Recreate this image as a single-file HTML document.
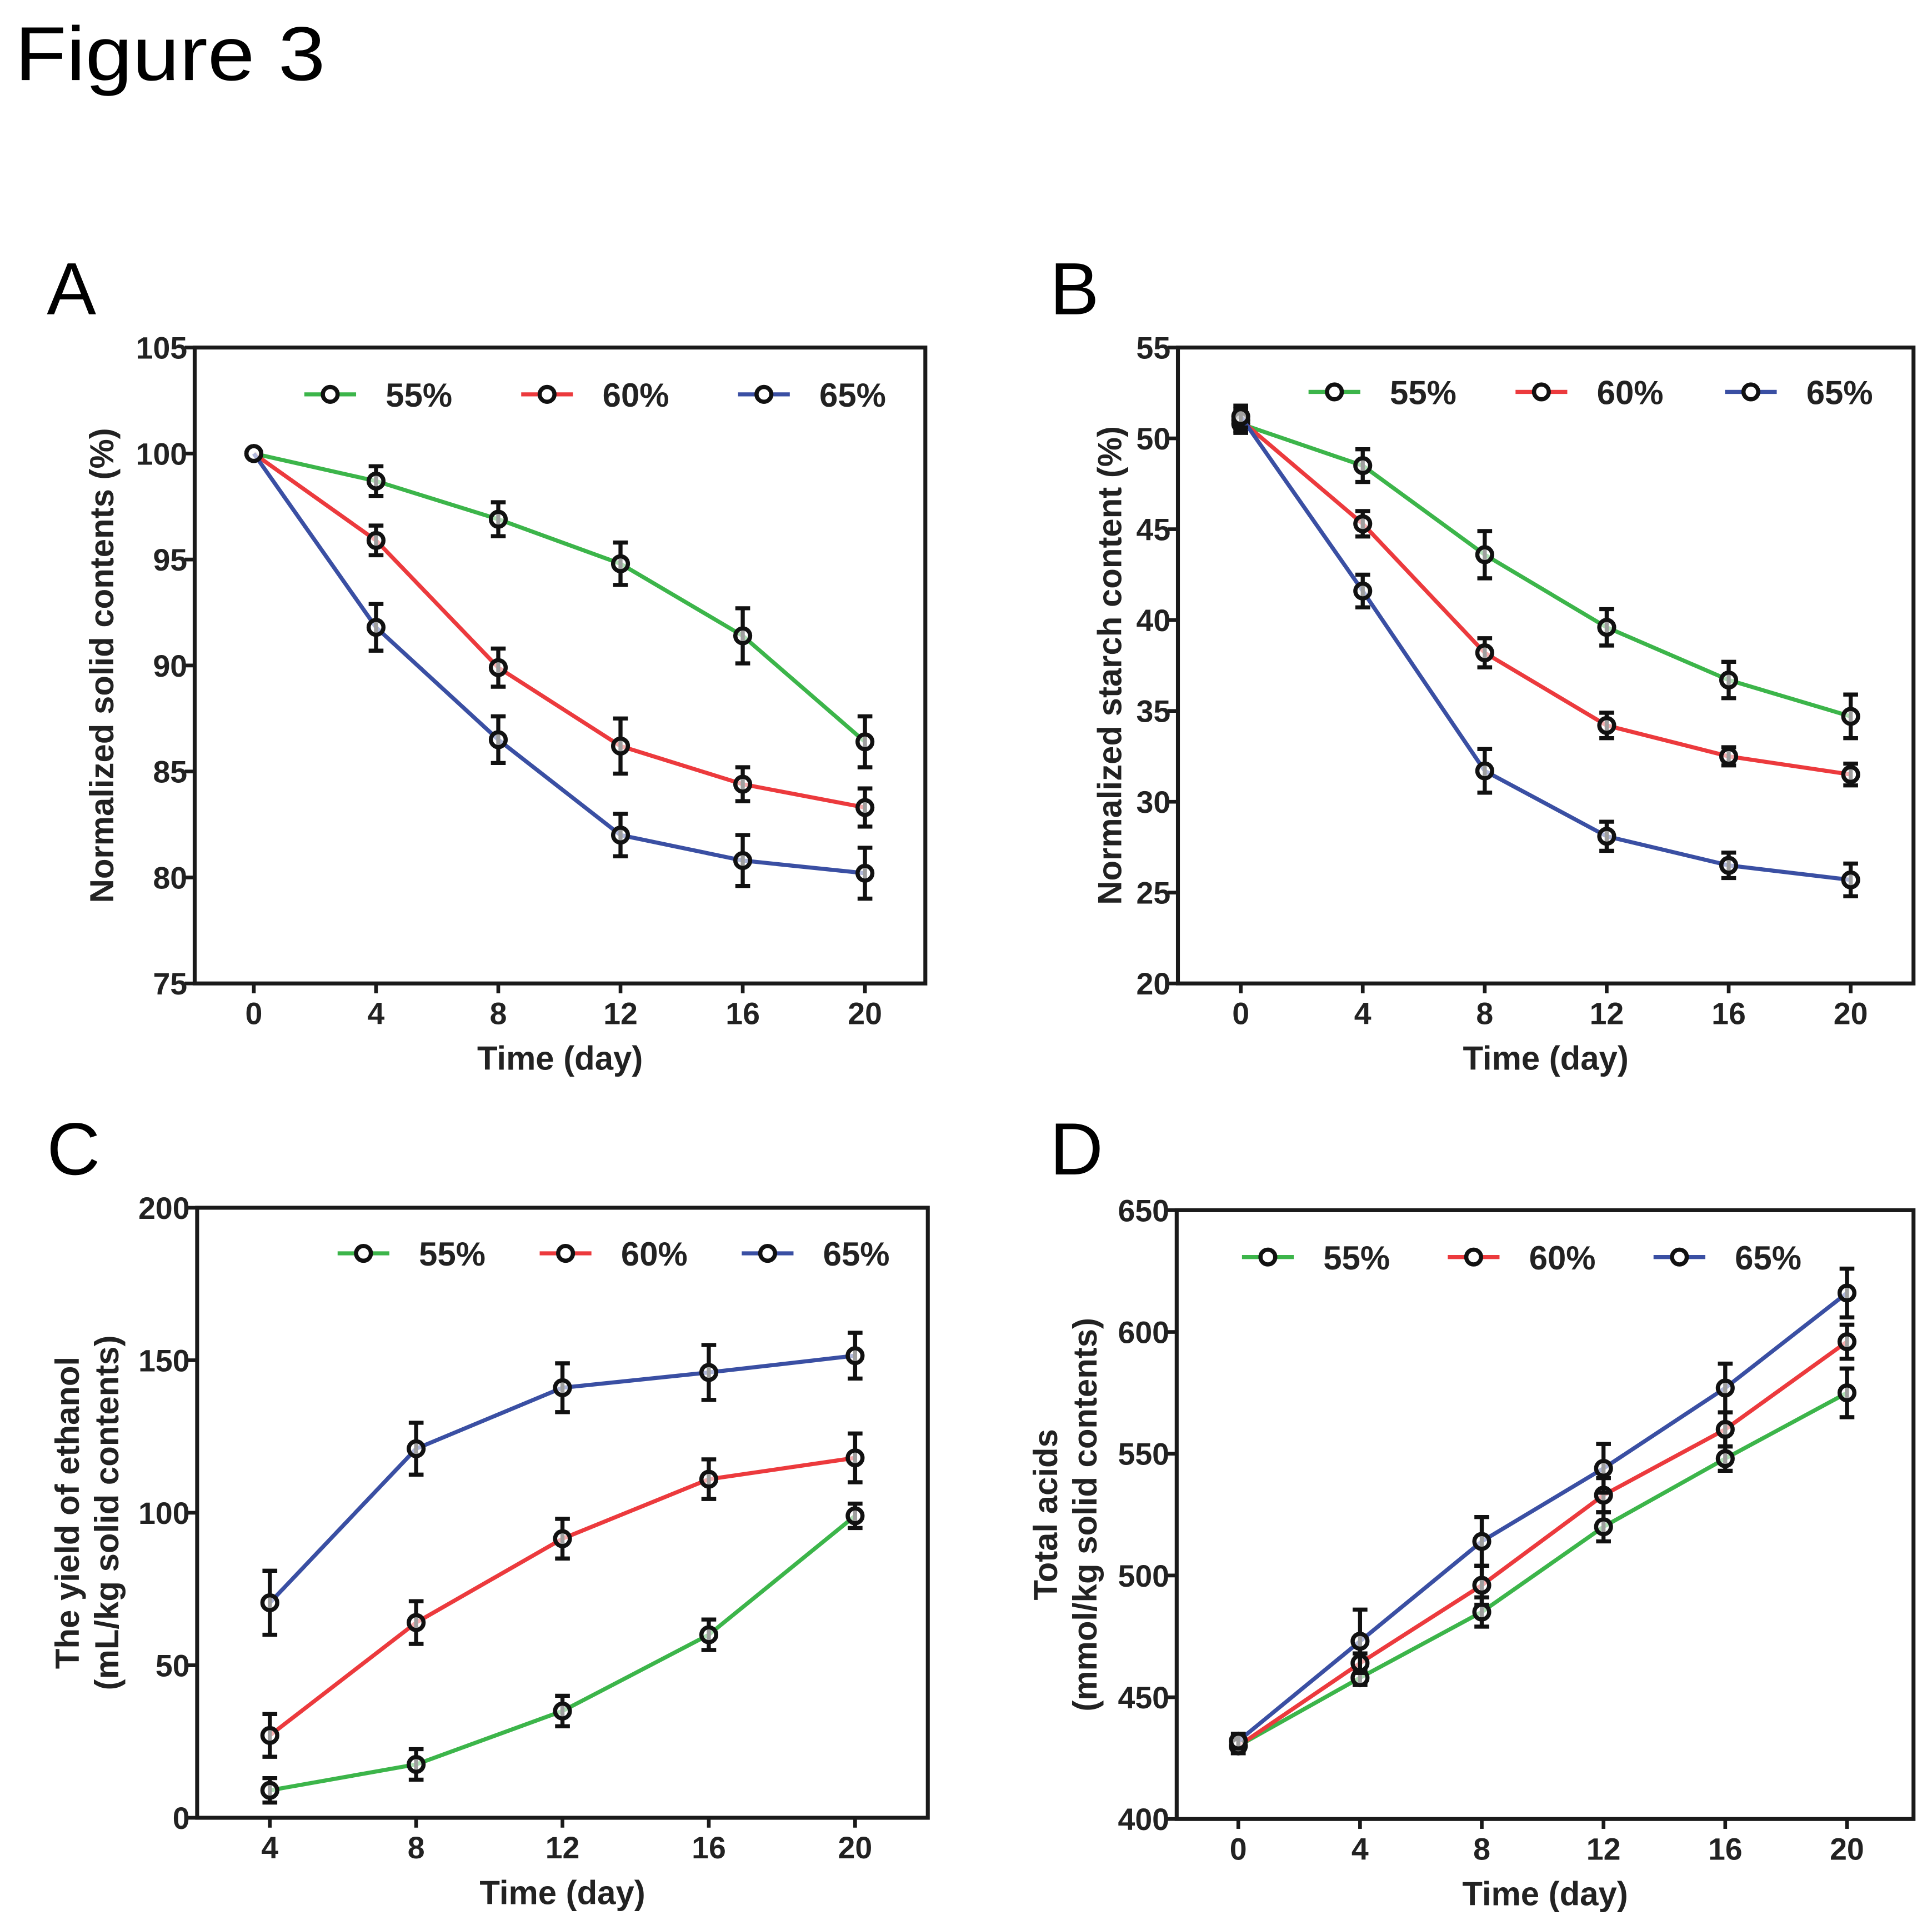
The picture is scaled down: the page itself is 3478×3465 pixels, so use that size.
<!DOCTYPE html>
<html><head><meta charset="utf-8"><style>
html,body{margin:0;padding:0;background:#fff;}
svg{display:block;font-family:"Liberation Sans",Arial,sans-serif;}
</style></head><body>
<svg id="fig" width="3478" height="3465" viewBox="0 0 1568 1562" preserveAspectRatio="none" xmlns="http://www.w3.org/2000/svg">
<text x="12" y="65" font-size="62" textLength="252" lengthAdjust="spacingAndGlyphs">Figure 3</text>
</svg>
<script>
// ---- Data ----
const daysA = [0,4,8,12,16,20];
const daysC = [4,8,12,16,20];
const seriesNames = ['55%','60%','65%'];
const A55 = [100,98.7,96.9,94.8,91.4,86.4], A55e = [0,0.7,0.8,1.0,1.3,1.2];
const A60 = [100,95.9,89.9,86.2,84.4,83.3], A60e = [0,0.7,0.9,1.3,0.8,0.9];
const A65 = [100,91.8,86.5,82.0,80.8,80.2], A65e = [0,1.1,1.1,1.0,1.2,1.2];
const B55 = [50.8,48.5,43.6,39.6,36.7,34.7], B55e = [0.5,0.9,1.3,1.0,1.0,1.2];
const B60 = [51.0,45.3,38.2,34.2,32.5,31.5], B60e = [0.6,0.7,0.8,0.7,0.5,0.6];
const B65 = [51.2,41.6,31.7,28.1,26.5,25.7], B65e = [0.6,0.9,1.2,0.8,0.7,0.9];
const C55 = [9,17.5,35,60,99], C55e = [4,5,5,5,4];
const C60 = [27,64,91.5,111,118], C60e = [7,7,6.5,6.5,8];
const C65 = [70.5,121,141,146,151.5], C65e = [10.5,8.5,8,9,7.5];
const D55 = [430,458,485,520,548,575], D55e = [3,3,6,6,5,10];
const D60 = [430,464,496,533,560,596], D60e = [3,4,8,7,7,7];
const D65 = [432,473,514,544,577,616], D65e = [3,13,10,10,10,10];
const ticksA = [75,80,85,90,95,100,105];
const ticksB = [20,25,30,35,40,45,50,55];
const ticksC = [0,50,100,150,200];
const ticksD = [400,450,500,550,600,650];

const colors = ['#3cb54a','#ec3a3d','#3a4fa3'];
const NS = 'http://www.w3.org/2000/svg';
const svg = document.getElementById('fig');
function el(tag, attrs, parent){
  const e = document.createElementNS(NS, tag);
  for (const k in attrs) e.setAttribute(k, attrs[k]);
  (parent||svg).appendChild(e); return e;
}
function panel(cfg){
  const g = el('g', {});
  
  
  const {x0,x1,y0,y1,xd,yd,xpx,xticks,yticks} = cfg;
  const sx = v => xpx[0] + (v - xd[0]) / (xd[1] - xd[0]) * (xpx[1] - xpx[0]);
  const sy = v => y1 - (v - yd[0]) / (yd[1] - yd[0]) * (y1 - y0);
  const lt = el('text', {x:cfg.lx, y:cfg.ly, 'font-size':60}, g);
  lt.textContent = cfg.id;
  
  
  const box = el('rect', {x:x0, y:y0, width:x1-x0, height:y1-y0, fill:'none', stroke:'#1a1a1a', 'stroke-width':3.2}, g);
  
  
  yticks.forEach(t => {
    const y = sy(t);
    el('line', {x1:x0-8, x2:x0, y1:y, y2:y, stroke:'#1a1a1a', 'stroke-width':3}, g);
    const tx = el('text', {x:x0-6, y:y+9, 'font-size':25, 'font-weight':'bold', 'text-anchor':'end', fill:'#222'}, g);
    tx.textContent = t;
    
    
  });
  xticks.forEach(t => {
    const x = sx(t);
    el('line', {x1:x, x2:x, y1:y1, y2:y1+8, stroke:'#1a1a1a', 'stroke-width':3}, g);
    const tx = el('text', {x:x, y:y1+33, 'font-size':25, 'font-weight':'bold', 'text-anchor':'middle', fill:'#222'}, g);
    tx.textContent = t;
    
    
  });
  const xt = el('text', {x:(x0+x1)/2, y:y1+70, 'font-size':27, 'font-weight':'bold', 'text-anchor':'middle', fill:'#222'}, g);
  xt.textContent = 'Time (day)';
  
  
  cfg.ylab.forEach((s, i) => {
    const lx = cfg.ylx[i], ly = (y0+y1)/2;
    const yt = el('text', {x:lx, y:ly, 'font-size':27, 'font-weight':'bold', 'text-anchor':'middle', fill:'#222', transform:`rotate(-90 ${lx} ${ly})`}, g);
    yt.textContent = s;
    
    
  });
  cfg.series.forEach((s, si) => {
    const sg = el('g', {}, g);
    
    
    const pts = s.v.map((v, i) => sx(cfg.xs[i]) + ',' + sy(v)).join(' ');
    const pl = el('polyline', {points:pts, fill:'none', stroke:colors[si], 'stroke-width':3.3, 'stroke-linejoin':'round'}, sg);
    
    
    s.v.forEach((v, i) => {
      const x = sx(cfg.xs[i]);
      if (s.e[i] > 0) {
        const ya = sy(v + s.e[i]), yb = sy(v - s.e[i]);
        el('line', {x1:x, x2:x, y1:ya, y2:yb, stroke:'#111', 'stroke-width':3.3}, sg);
        el('line', {x1:x-6, x2:x+6, y1:ya, y2:ya, stroke:'#111', 'stroke-width':3.3}, sg);
        el('line', {x1:x-6, x2:x+6, y1:yb, y2:yb, stroke:'#111', 'stroke-width':3.3}, sg);
      }
      const c = el('circle', {cx:x, cy:sy(v), r:6, fill:'#fff', 'fill-opacity':0.6, stroke:'#111', 'stroke-width':3.4}, sg);
      
      
    });
  });
  cfg.leg.forEach((lx, i) => {
    const lg = el('g', {}, g);
    
    
    el('line', {x1:lx-21, x2:lx+21, y1:cfg.legY, y2:cfg.legY, stroke:colors[i], 'stroke-width':3.3}, lg);
    el('circle', {cx:lx, cy:cfg.legY, r:6, fill:'#fff', stroke:'#111', 'stroke-width':3.4}, lg);
    const t = el('text', {x:lx+45, y:cfg.legY+10, 'font-size':27, 'font-weight':'bold', fill:'#222'}, lg);
    t.textContent = seriesNames[i];
  });
}
panel({id:'A', lx:38, ly:255, x0:158, x1:751, y0:282, y1:798, xd:[0,20], xpx:[206,702], yd:[75,105],
  xticks:daysA, yticks:ticksA, xs:daysA, ylab:['Normalized solid contents (%)'], ylx:[92],
  series:[{v:A55,e:A55e},{v:A60,e:A60e},{v:A65,e:A65e}], leg:[268,444,620], legY:320});
panel({id:'B', lx:852, ly:255, x0:956, x1:1553, y0:282, y1:798, xd:[0,20], xpx:[1007,1502], yd:[20,55],
  xticks:daysA, yticks:ticksB, xs:daysA, ylab:['Normalized starch content (%)'], ylx:[910],
  series:[{v:B55,e:B55e},{v:B60,e:B60e},{v:B65,e:B65e}], leg:[1083,1251,1421], legY:318});
panel({id:'C', lx:38, ly:953, x0:160, x1:753, y0:980, y1:1475, xd:[4,20], xpx:[219,694], yd:[0,200],
  xticks:daysC, yticks:ticksC, xs:daysC, ylab:['The yield of ethanol','(mL/kg solid contents)'], ylx:[64,96],
  series:[{v:C55,e:C55e},{v:C60,e:C60e},{v:C65,e:C65e}], leg:[295,459,623], legY:1017});
panel({id:'D', lx:852, ly:953, x0:955, x1:1553, y0:982, y1:1476, xd:[0,20], xpx:[1005,1499], yd:[400,650],
  xticks:daysA, yticks:ticksD, xs:daysA, ylab:['Total acids','(mmol/kg solid contents)'], ylx:[858,890],
  series:[{v:D55,e:D55e},{v:D60,e:D60e},{v:D65,e:D65e}], leg:[1029,1196,1363], legY:1020});
</script>
</body></html>
